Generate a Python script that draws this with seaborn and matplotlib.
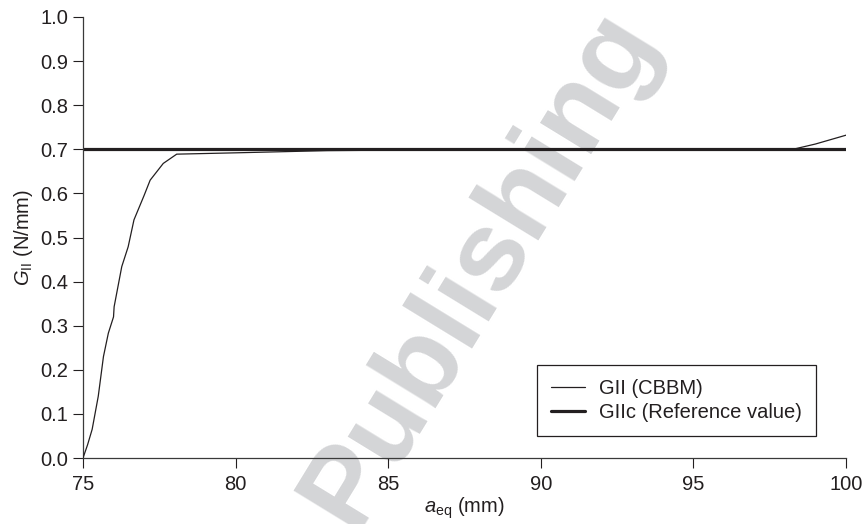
import numpy as np
import pandas as pd
import matplotlib
matplotlib.use("Agg")
import matplotlib.pyplot as plt
import seaborn as sns

# Data
a_eq = [75.0, 75.15, 75.3, 75.5, 75.67, 75.83, 76.0, 76.02, 76.27, 76.48, 76.67,
        77.0, 77.2, 77.63, 78.07, 80.0, 83.0, 85.0, 90.0, 95.0, 98.2, 99.0, 100.0]
g_cbbm = [0.0, 0.03, 0.065, 0.14, 0.23, 0.283, 0.32, 0.343, 0.434, 0.479, 0.54,
          0.595, 0.63, 0.668, 0.689, 0.692, 0.697, 0.698, 0.698, 0.698, 0.699, 0.712, 0.732]
ref_x = [75.0, 100.0]
ref_g = [0.70, 0.70]
labels = ["GII (CBBM)", "GIIc (Reference value)"]
x_ticks = [75, 80, 85, 90, 95, 100]
y_ticks = [0.0, 0.1, 0.2, 0.3, 0.4, 0.5, 0.6, 0.7, 0.8, 0.9, 1.0]

sns.set_style("ticks")
plt.rcParams['font.family'] = ['Liberation Sans', 'DejaVu Sans']
plt.rcParams['mathtext.fontset'] = 'custom'
plt.rcParams['mathtext.rm'] = 'Liberation Sans'
plt.rcParams['mathtext.it'] = 'Liberation Sans:italic'

ink = '#231f20'
fs = 14.5

fig = plt.figure(figsize=(8.68, 5.24), dpi=100)
ax = fig.add_axes([83/868, 1 - 458/524, (846-83)/868, (458-17)/524])
ax.set_facecolor('none')

fig.text(480/868, 1 - 268/524, "Publishing", fontsize=82, fontweight='bold',
         color='#d4d5d7', rotation=58.5, ha='center', va='center', zorder=-5)

df1 = pd.DataFrame({"x": a_eq, "y": g_cbbm})
df2 = pd.DataFrame({"x": ref_x, "y": ref_g})
sns.lineplot(data=df1, x="x", y="y", ax=ax, color=ink, lw=0.9, label=labels[0], zorder=3)
sns.lineplot(data=df2, x="x", y="y", ax=ax, color=ink, lw=2.3, label=labels[1], zorder=2)

ax.set_xlim(75, 100)
ax.set_ylim(0, 1.0)
ax.set_xticks(x_ticks)
ax.set_yticks(y_ticks)
ax.set_yticklabels([f"{v:.1f}" for v in y_ticks])
ax.tick_params(axis='both', direction='out', length=7, width=0.8, colors=ink,
               labelsize=fs)
ax.tick_params(axis='y', pad=3.5)
ax.tick_params(axis='x', pad=5)
for s in ['top', 'right']:
    ax.spines[s].set_visible(False)
for s in ['left', 'bottom']:
    ax.spines[s].set_color('#3a3a3a')
    ax.spines[s].set_linewidth(0.9)

ax.set_xlabel(r"$a_{\mathrm{eq}}$ (mm)", fontsize=fs, color=ink, labelpad=1)
ax.set_ylabel(r"$G_{\mathrm{II}}$ (N/mm)", fontsize=fs, color=ink, labelpad=4)

leg = ax.legend(loc='lower right', bbox_to_anchor=(0.9607, 0.05), fontsize=fs,
                frameon=True, fancybox=False, framealpha=1, edgecolor=ink,
                handlelength=1.7, borderpad=0.7, labelspacing=0.25, handletextpad=0.7,
                borderaxespad=0)
leg.get_frame().set_linewidth(0.9)
for t in leg.get_texts():
    t.set_color(ink)

fig.savefig("out.png", dpi=100)
